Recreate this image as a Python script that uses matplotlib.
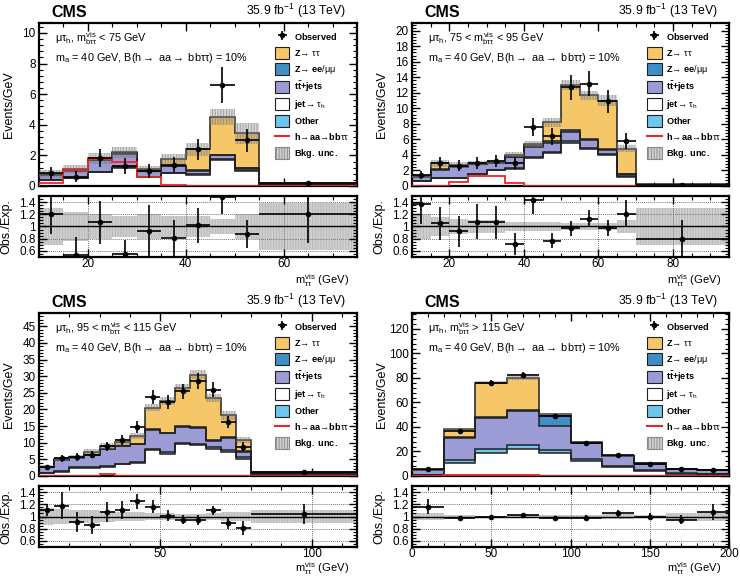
import numpy as np
import matplotlib
matplotlib.use('Agg')
from matplotlib import pyplot as plt
from matplotlib.patches import Patch
from matplotlib.lines import Line2D
from matplotlib.ticker import MultipleLocator

plt.rcParams['font.family'] = ['Liberation Sans', 'DejaVu Sans']
plt.rcParams['mathtext.fontset'] = 'custom'
plt.rcParams['mathtext.rm'] = 'Liberation Sans'
plt.rcParams['mathtext.it'] = 'Liberation Sans'
plt.rcParams['mathtext.bf'] = 'Liberation Sans:bold'
plt.rcParams['hatch.linewidth'] = 0.6

# ---- panel 1 : mu tau_h, m_btt < 75 GeV
p1_edges = [10, 15, 20, 25, 30, 35, 40, 45, 50, 55, 75]
p1_jet = [0.40, 0.50, 0.90, 1.20, 0.60, 0.85, 0.75, 1.70, 1.00, 0.08]
p1_other = [0.02, 0.02, 0.03, 0.03, 0.02, 0.03, 0.03, 0.04, 0.05, 0.01]
p1_tt = [0.33, 0.48, 0.77, 0.87, 0.38, 0.42, 0.22, 0.26, 0.10, 0.06]
p1_zll = [0.01, 0.02, 0.02, 0.03, 0.02, 0.02, 0.03, 0.05, 0.05, 0.00]
p1_ztt = [0.02, 0.08, 0.08, 0.07, 0.08, 0.43, 1.37, 2.45, 2.25, 0.03]
p1_sig = [0.20, 1.05, 1.75, 1.60, 0.60, 0.05, 0.0, 0.0, 0.0, 0.0]
p1_obs = [0.83, 0.60, 1.85, 1.30, 1.00, 1.40, 2.40, 6.60, 3.00, 0.22]
p1_obs_err = [0.40, 0.35, 0.60, 0.50, 0.45, 0.50, 0.70, 1.15, 0.75, 0.10]
p1_ratio = [1.20, 0.53, 1.07, 0.55, 0.93, 0.81, 1.02, 1.48, 0.88, 1.20]
p1_ratio_err = [0.32, 0.30, 0.35, 0.23, 0.43, 0.30, 0.29, 0.27, 0.23, 0.47]
p1_unc = [0.30, 0.23, 0.20, 0.17, 0.20, 0.18, 0.18, 0.12, 0.20, 0.38]

# ---- panel 2 : 75 < m_btt < 95 GeV
p2_edges = [10, 15, 20, 25, 30, 35, 40, 45, 50, 55, 60, 65, 70, 95]
p2_jet = [0.60, 1.00, 1.00, 1.50, 2.00, 2.20, 3.60, 4.20, 5.60, 4.80, 4.00, 1.20, 0.08]
p2_other = [0.03, 0.05, 0.05, 0.05, 0.05, 0.08, 0.10, 0.12, 0.20, 0.15, 0.15, 0.08, 0.01]
p2_tt = [0.57, 1.05, 1.45, 1.25, 0.90, 1.42, 1.30, 1.28, 1.20, 0.95, 0.45, 0.22, 0.06]
p2_zll = [0.03, 0.05, 0.05, 0.05, 0.05, 0.10, 0.10, 0.15, 0.20, 0.20, 0.15, 0.10, 0.01]
p2_ztt = [0.07, 0.75, 0.15, 0.05, 0.10, 0.20, 0.30, 2.45, 5.80, 5.60, 6.25, 3.20, 0.04]
p2_sig = [0.0, 0.05, 0.55, 1.35, 1.35, 0.40, 0.0, 0.0, 0.0, 0.0, 0.0, 0.0, 0.0]
p2_obs = [1.40, 3.00, 2.60, 3.00, 3.20, 3.00, 7.60, 6.40, 12.7, 13.2, 10.9, 5.80, 0.15]
p2_obs_err = [0.50, 0.80, 0.70, 0.80, 0.80, 0.75, 1.20, 1.10, 1.60, 1.60, 1.50, 1.05, 0.10]
p2_ratio = [1.37, 1.05, 0.92, 1.08, 1.07, 0.72, 1.43, 0.77, 0.97, 1.13, 0.98, 1.21, 0.79]
p2_ratio_err = [0.33, 0.27, 0.25, 0.29, 0.27, 0.18, 0.23, 0.13, 0.12, 0.14, 0.13, 0.22, 0.32]
p2_unc = [0.20, 0.15, 0.13, 0.10, 0.10, 0.08, 0.08, 0.07, 0.05, 0.05, 0.06, 0.10, 0.30]

# ---- panel 3 : 95 < m_btt < 115 GeV
p3_edges = [10, 15, 20, 25, 30, 35, 40, 45, 50, 55, 60, 65, 70, 75, 80, 115]
p3_jet = [0.80, 1.30, 2.50, 2.50, 2.80, 3.50, 4.00, 7.80, 6.50, 9.50, 9.20, 8.00, 7.20, 5.00, 0.50]
p3_other = [0.05, 0.10, 0.15, 0.15, 0.20, 0.25, 0.30, 0.40, 0.70, 0.50, 0.40, 0.60, 0.60, 0.80, 0.10]
p3_tt = [1.85, 3.40, 2.85, 3.65, 5.00, 5.25, 5.20, 5.60, 5.60, 4.80, 4.90, 1.90, 3.70, 1.40, 0.40]
p3_zll = [0.05, 0.10, 0.10, 0.10, 0.15, 0.15, 0.15, 0.20, 0.20, 0.20, 0.20, 0.20, 0.20, 0.20, 0.05]
p3_ztt = [0.05, 0.10, 0.20, 0.90, 0.85, 1.05, 2.35, 6.50, 9.50, 11.5, 15.8, 12.8, 6.50, 3.40, 0.15]
p3_sig = [0.05, 0.10, 0.10, 0.15, 0.60, 0.15, 0.10, 0.05, 0.05, 0.02, 0.02, 0.0, 0.0, 0.0, 0.0]
p3_obs = [2.70, 5.30, 5.70, 6.40, 9.00, 10.8, 14.7, 23.8, 22.3, 25.5, 28.5, 26.0, 16.3, 8.80, 1.20]
p3_obs_err = [0.73, 1.03, 1.07, 1.13, 1.34, 1.47, 1.71, 2.18, 2.11, 2.26, 2.39, 2.28, 1.80, 1.33, 0.19]
p3_ratio = [1.11, 1.18, 0.91, 0.86, 1.07, 1.11, 1.25, 1.16, 1.01, 0.95, 0.94, 1.10, 0.89, 0.81, 1.04]
p3_ratio_err = [0.10, 0.22, 0.17, 0.15, 0.16, 0.15, 0.12, 0.11, 0.09, 0.08, 0.08, 0.08, 0.09, 0.11, 0.17]
p3_unc = [0.14, 0.12, 0.10, 0.10, 0.09, 0.08, 0.07, 0.05, 0.05, 0.04, 0.04, 0.05, 0.07, 0.08, 0.10]

# ---- panel 4 : m_btt > 115 GeV
p4_edges = [0, 20, 40, 60, 80, 100, 120, 140, 160, 180, 200]
p4_jet = [0.5, 11.0, 19.0, 22.0, 19.0, 12.0, 7.0, 4.0, 2.0, 1.5]
p4_other = [0.2, 2.0, 3.0, 3.5, 2.0, 1.5, 1.0, 0.5, 0.3, 0.2]
p4_tt = [3.8, 18.0, 25.0, 27.5, 20.0, 13.5, 8.0, 5.5, 3.2, 2.8]
p4_zll = [0.1, 1.0, 1.0, 1.0, 8.0, 0.3, 0.3, 0.2, 0.1, 0.1]
p4_ztt = [0.0, 6.0, 28.0, 26.0, 1.5, 0.2, 0.2, 0.0, 0.1, 0.1]
p4_sig = [0.3, 0.5, 0.6, 0.5, 0.4, 0.3, 0.2, 0.1, 0.1, 0.1]
p4_obs = [5.5, 37.0, 76.0, 82.5, 49.0, 26.7, 16.8, 9.8, 5.8, 4.5]
p4_obs_err = [0.5, 1.4, 2.0, 2.0, 1.6, 1.2, 0.9, 0.7, 0.55, 0.5]
p4_ratio = [1.16, 0.97, 1.00, 1.03, 0.98, 0.98, 1.05, 1.00, 0.95, 1.07]
p4_ratio_err = [0.12, 0.03, 0.02, 0.02, 0.03, 0.04, 0.05, 0.06, 0.08, 0.13]
p4_unc = [0.06, 0.03, 0.015, 0.02, 0.02, 0.02, 0.04, 0.03, 0.05, 0.08]

cat_labels = [r'$\mu\tau_{h}$, $m^{vis}_{b\tau\tau}$ < 75 GeV',
              r'$\mu\tau_{h}$, 75 < $m^{vis}_{b\tau\tau}$ < 95 GeV',
              r'$\mu\tau_{h}$, 95 < $m^{vis}_{b\tau\tau}$ < 115 GeV',
              r'$\mu\tau_{h}$, $m^{vis}_{b\tau\tau}$ > 115 GeV']
sig_label = r'$m_{a}$ = 40 GeV, B(h$\rightarrow$ aa$\rightarrow$ bb$\tau\tau$) = 10%'

c_ztt = '#f6c769'
c_zll = '#3f8fc6'
c_tt = '#9b9bd6'
c_jet = '#ffffff'
c_other = '#6ec6ec'
c_sig = '#e8262b'

W, H = 740.0, 579.0
def frac(x0, y0, x1, y1):
    return [x0 / W, 1 - y1 / H, (x1 - x0) / W, (y1 - y0) / H]

layout = [
    (frac(39, 23, 357, 186), frac(39, 196, 357, 257)),
    (frac(412, 23, 729, 186), frac(412, 196, 729, 257)),
    (frac(39, 313, 357, 476), frac(39, 486, 357, 547)),
    (frac(412, 313, 729, 476), frac(412, 486, 729, 547)),
]
xlab_y = [-0.39, -0.39, -0.36, -0.36]
ylims = [10.65, 21.0, 49.0, 133.0]
ymaj = [2, 2, 5, 20]
ymin = [0.4, 0.4, 1, 4]
xmaj = [20, 20, 50, 50]
xmin = [5, 5, 10, 10]

panels = [
    (p1_edges, p1_jet, p1_other, p1_tt, p1_zll, p1_ztt, p1_sig, p1_obs, p1_obs_err, p1_ratio, p1_ratio_err, p1_unc),
    (p2_edges, p2_jet, p2_other, p2_tt, p2_zll, p2_ztt, p2_sig, p2_obs, p2_obs_err, p2_ratio, p2_ratio_err, p2_unc),
    (p3_edges, p3_jet, p3_other, p3_tt, p3_zll, p3_ztt, p3_sig, p3_obs, p3_obs_err, p3_ratio, p3_ratio_err, p3_unc),
    (p4_edges, p4_jet, p4_other, p4_tt, p4_zll, p4_ztt, p4_sig, p4_obs, p4_obs_err, p4_ratio, p4_ratio_err, p4_unc),
]

fig = plt.figure(figsize=(7.4, 5.79), dpi=100)

for i, (edges, jet, other, tt, zll, ztt, sig, obs, obs_err, ratio, ratio_err, unc) in enumerate(panels):
    edges = np.array(edges, dtype=float)
    centers = 0.5 * (edges[:-1] + edges[1:])
    halfw = 0.5 * (edges[1:] - edges[:-1])
    ax = fig.add_axes(layout[i][0])
    rax = fig.add_axes(layout[i][1])

    # stacked backgrounds
    comps = [(jet, c_jet), (other, c_other), (tt, c_tt), (zll, c_zll), (ztt, c_ztt)]
    base = np.zeros(len(jet))
    for vals, col in comps:
        top = base + np.array(vals)
        ax.stairs(top, edges, baseline=base, fill=True, color=col, lw=0, zorder=2)
        ax.stairs(top, edges, baseline=None, color='#202020', lw=1.1, zorder=3)
        base = top
    total = base
    rel = np.array(unc)
    ax.stairs(total * (1 + rel), edges, baseline=total * (1 - rel), fill=True,
              facecolor=(0.55, 0.55, 0.55, 0.35), edgecolor=(0.45, 0.45, 0.45, 0.6),
              hatch='||||||', lw=0, zorder=4)
    ax.stairs(sig, edges, baseline=0, color=c_sig, lw=1.3, zorder=5)
    obs_h = ax.errorbar(centers, obs, xerr=halfw, yerr=obs_err, fmt='o', color='black',
                        ms=3, elinewidth=1.2, capsize=0, zorder=6)

    # ratio panel
    rax.stairs(1 + rel, edges, baseline=1 - rel, fill=True, facecolor='#cfcfcf',
               edgecolor='#b5b5b5', hatch='||||||', lw=0, zorder=1)
    rax.axhline(1.0, color='black', lw=1.0, zorder=2)
    for yv in [0.6, 0.8, 1.2, 1.4]:
        rax.axhline(yv, color='#777777', lw=0.7, ls=(0, (1, 1)), zorder=1.5)
    for xv in np.arange(0, edges[-1] + 1, xmaj[i]):
        if edges[0] < xv < edges[-1]:
            rax.axvline(xv, color='#777777', lw=0.7, ls=(0, (1, 1)), zorder=1.5)
    rax.errorbar(centers, ratio, xerr=halfw, yerr=ratio_err, fmt='o', color='black',
                 ms=3, elinewidth=1.2, capsize=0, zorder=6)

    for a in (ax, rax):
        a.set_xlim(edges[0], edges[-1])
        a.xaxis.set_major_locator(MultipleLocator(xmaj[i]))
        a.xaxis.set_minor_locator(MultipleLocator(xmin[i]))
        a.tick_params(axis='both', which='major', direction='in', length=6, width=1,
                      top=True, right=True, labelsize=8.5, pad=2.5)
        a.tick_params(axis='both', which='minor', direction='in', length=3, width=0.8,
                      top=True, right=True)
        for s in a.spines.values():
            s.set_linewidth(1.6)
    rax.tick_params(axis='x', which='major', pad=1.0)
    ax.set_ylim(0, ylims[i])
    ax.yaxis.set_major_locator(MultipleLocator(ymaj[i]))
    ax.yaxis.set_minor_locator(MultipleLocator(ymin[i]))
    ax.tick_params(labelbottom=False)
    rax.set_ylim(0.5, 1.5)
    rax.set_yticks([0.6, 0.8, 1.0, 1.2, 1.4])
    rax.set_yticklabels(['0.6', '0.8', '1', '1.2', '1.4'])
    rax.yaxis.set_minor_locator(MultipleLocator(0.05))

    ax.set_ylabel('Events/GeV', fontsize=9)
    rax.set_ylabel('Obs./Exp.', fontsize=9)
    ax.yaxis.set_label_coords(-0.075, 0.5)
    rax.yaxis.set_label_coords(-0.085, 0.5)
    rax.set_xlabel(r'$m^{vis}_{\tau\tau}$ (GeV)', fontsize=8.1)
    rax.xaxis.set_label_coords(0.975, xlab_y[i])
    rax.xaxis.label.set_ha('right')
    rax.xaxis.label.set_va('center')

    ax.text(0.04, 1.02, 'CMS', transform=ax.transAxes, fontsize=11.5, fontweight='bold',
            va='bottom', ha='left')
    ax.text(0.965, 1.02, r'35.9 fb$^{-1}$ (13 TeV)', transform=ax.transAxes, fontsize=8.8,
            va='bottom', ha='right')
    ax.text(0.05, 0.905, cat_labels[i], transform=ax.transAxes, fontsize=7.8, va='center', ha='left')
    ax.text(0.05, 0.785, sig_label, transform=ax.transAxes, fontsize=7.8, va='center', ha='left')

    handles = [obs_h,
               Patch(facecolor=c_ztt, edgecolor='#202020', lw=0.8),
               Patch(facecolor=c_zll, edgecolor='#202020', lw=0.8),
               Patch(facecolor=c_tt, edgecolor='#202020', lw=0.8),
               Patch(facecolor=c_jet, edgecolor='#202020', lw=0.8),
               Patch(facecolor=c_other, edgecolor='#202020', lw=0.8),
               Line2D([], [], color=c_sig, lw=1.5),
               Patch(facecolor='#d0d0d0', edgecolor='#888888', hatch='||||||', lw=0.8)]
    labels = [r'$\mathbf{Observed}$', r'$\mathbf{Z}\!\rightarrow\,\tau\tau$',
              r'$\mathbf{Z}\!\rightarrow\,\mathbf{ee}/\mu\mu$', r'$\mathbf{t\bar{t}{+}jets}$',
              r'$\mathbf{jet}\!\rightarrow\,\tau_{h}$', r'$\mathbf{Other}$',
              r'$\mathbf{h}\!\rightarrow\!\mathbf{aa}\!\rightarrow\!\mathbf{bb}\tau\tau$',
              r'$\mathbf{Bkg.\ unc.}$']
    ax.legend(handles, labels, loc='upper left', bbox_to_anchor=(0.73, 0.975), frameon=False,
              fontsize=6.6, handlelength=1.6, handleheight=1.6, labelspacing=0.45,
              handletextpad=0.45, borderaxespad=0)

fig.savefig('out.png', dpi=100)
